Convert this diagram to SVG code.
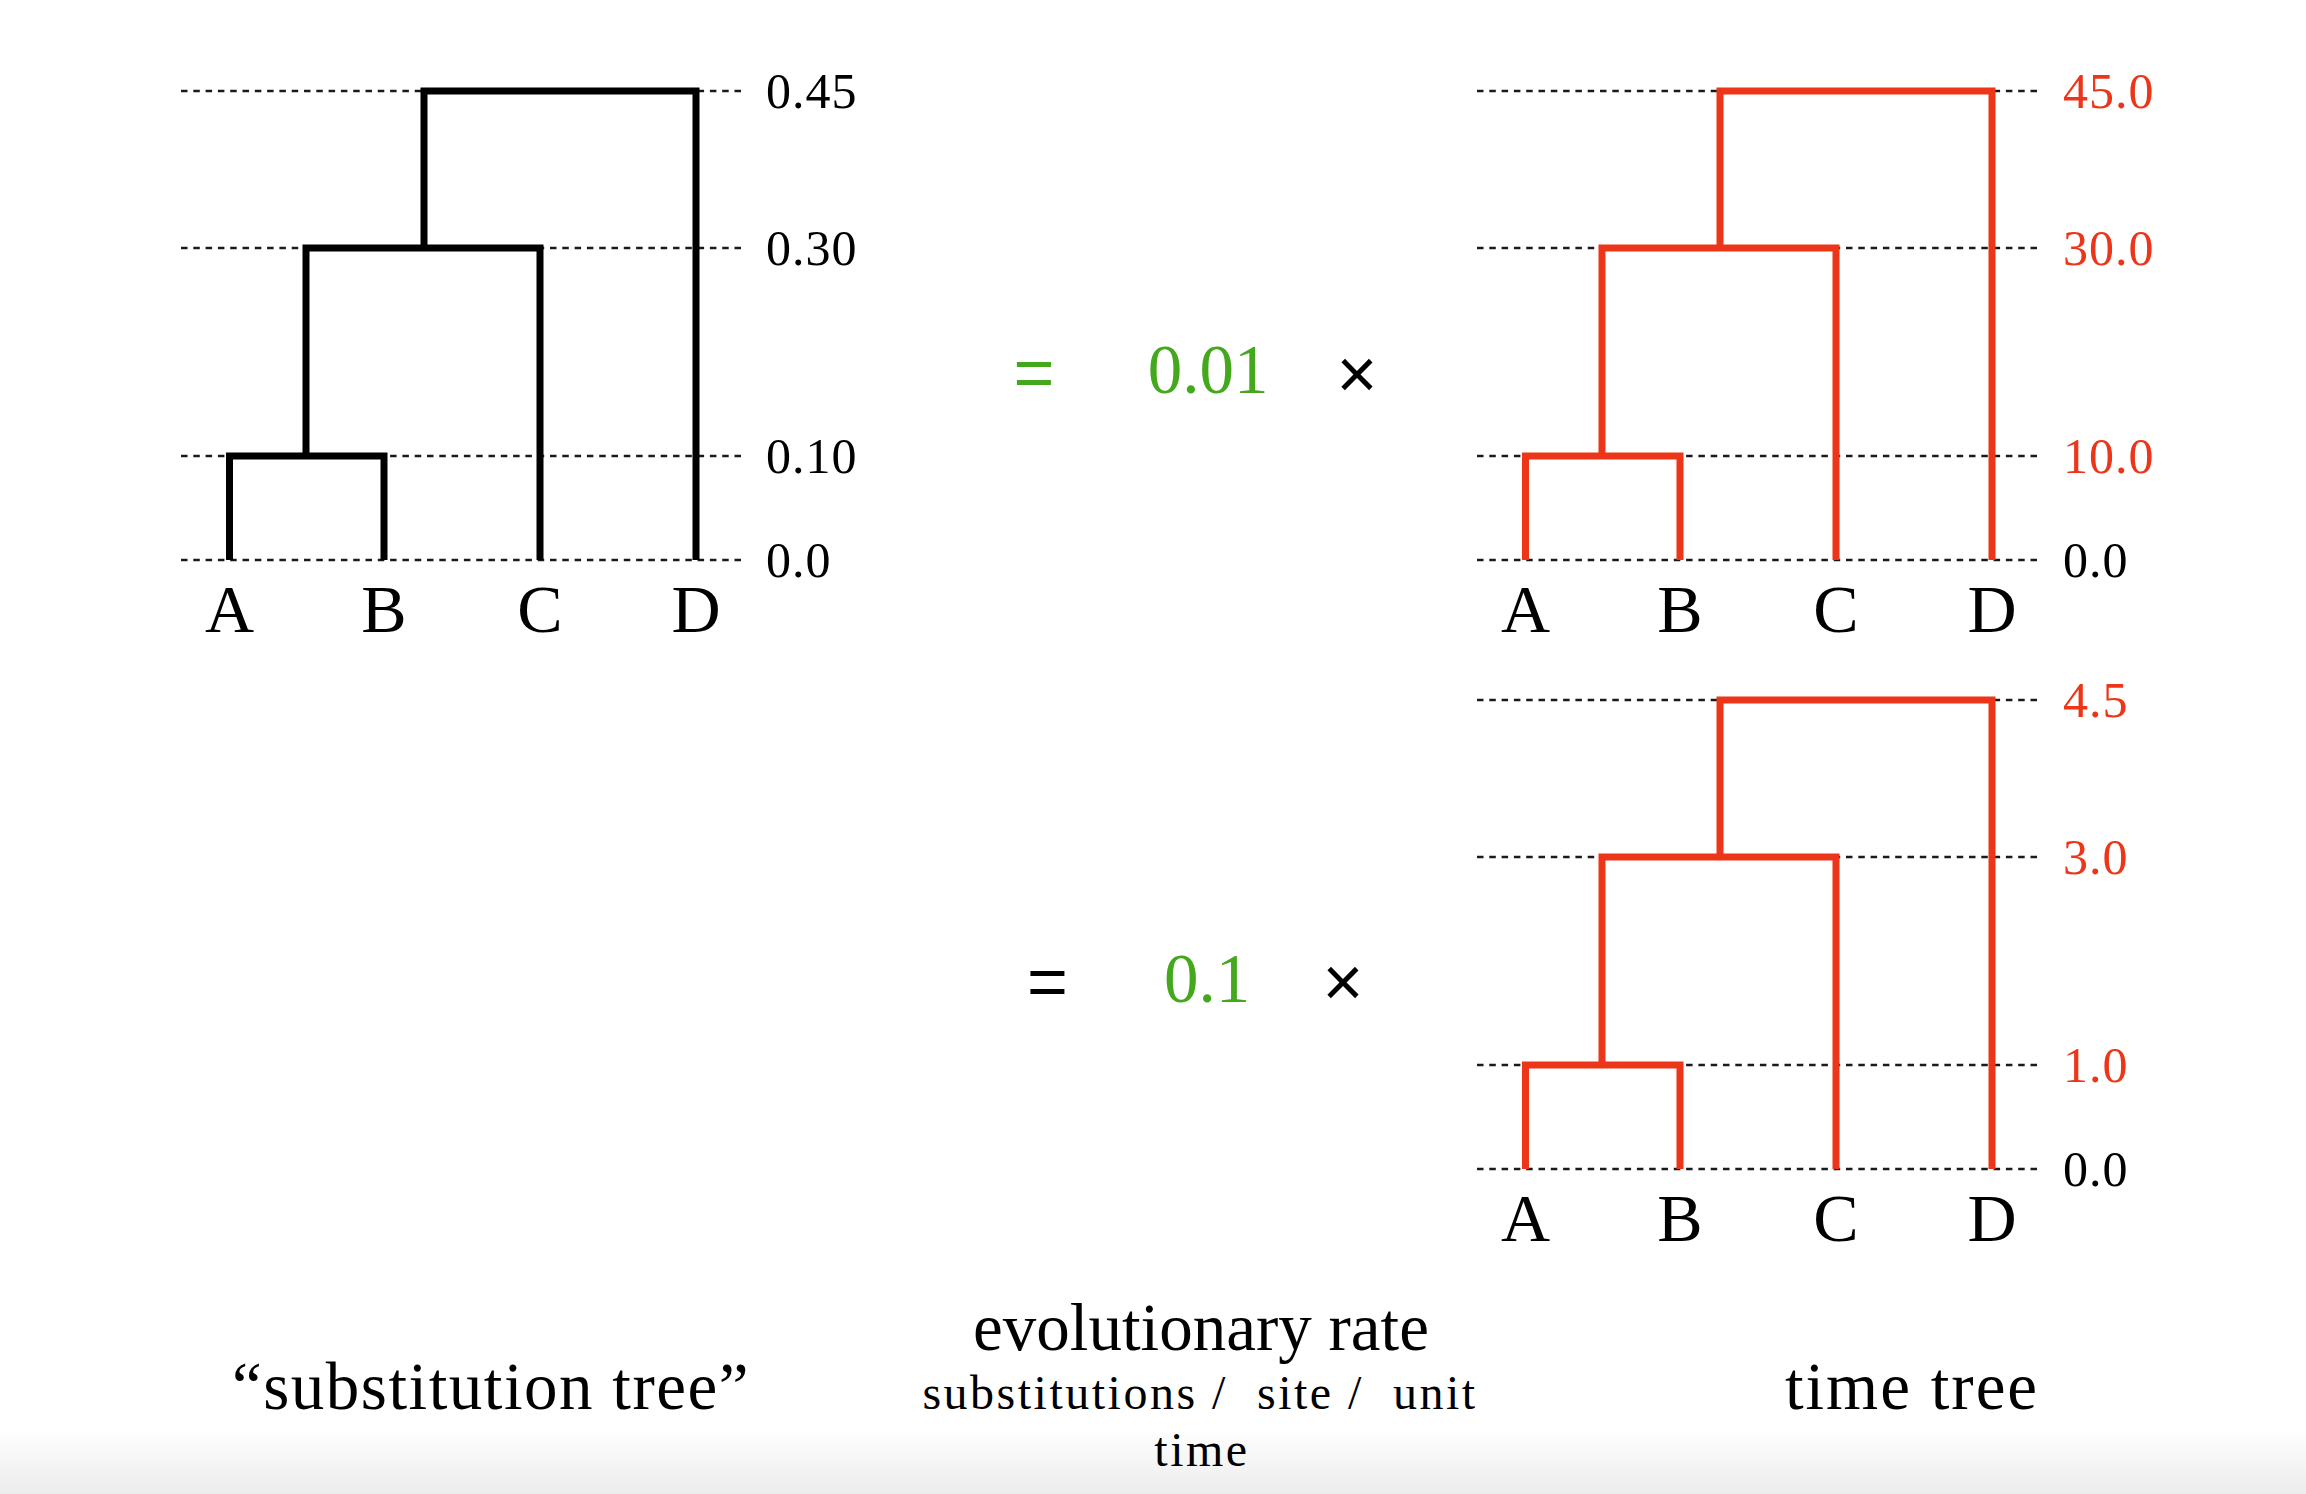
<svg xmlns="http://www.w3.org/2000/svg" width="2306" height="1494" viewBox="0 0 2306 1494">
  <defs>
    <linearGradient id="fade" x1="0" y1="0" x2="0" y2="1">
      <stop offset="0" stop-color="#ffffff"/>
      <stop offset="1" stop-color="#ececec"/>
    </linearGradient>
    <style>
      .grid { stroke: #1a1a1a; stroke-width: 2.6; stroke-dasharray: 6.5 5.8; fill: none; }
      .br { fill: none; stroke-width: 7; stroke-linejoin: miter; stroke-linecap: butt; }
      .blk { stroke: #000000; }
      .red { stroke: #ec3519; }
      .serif { font-family: "Liberation Serif", "Times New Roman", serif; }
      .sans { font-family: "Liberation Sans", Arial, sans-serif; }
      .ax { font-size: 50px; letter-spacing: 1px; }
      .tip { font-size: 68px; text-anchor: middle; fill: #000; }
      .rt { fill: #ec3519; }
      .gr { fill: #44a81c; }
      .op { font-size: 70px; text-anchor: middle; }
      .big { font-size: 67px; text-anchor: middle; fill: #000; }
      .small { font-size: 48px; text-anchor: middle; fill: #000; letter-spacing: 2.5px; white-space: pre; }
    </style>
  </defs>
  <rect x="0" y="0" width="2306" height="1494" fill="#ffffff"/>
  <rect x="0" y="1428" width="2306" height="66" fill="url(#fade)"/>

  <!-- Substitution tree (left, black) -->
  <g id="substitution-tree">
    <g id="subst-grid">
      <line class="grid" x1="181" y1="91" x2="743" y2="91"/>
      <line class="grid" x1="181" y1="248" x2="743" y2="248"/>
      <line class="grid" x1="181" y1="456" x2="743" y2="456"/>
      <line class="grid" x1="181" y1="560" x2="743" y2="560"/>
    </g>
    <g id="subst-branches" class="br blk">
      <path d="M229.5 560 V456 H384 V560"/>
      <path d="M306 456 V248 H540 V560"/>
      <path d="M424 248 V91 H696 V560"/>
    </g>
    <g id="subst-axis" class="serif ax">
      <text x="766" y="107.5">0.45</text>
      <text x="766" y="264.5">0.30</text>
      <text x="766" y="472.5">0.10</text>
      <text x="766" y="576.5">0.0</text>
    </g>
    <g id="subst-tips" class="serif tip">
      <text x="229.5" y="632">A</text>
      <text x="384" y="632">B</text>
      <text x="540" y="632">C</text>
      <text x="696" y="632">D</text>
    </g>
  </g>

  <!-- Time tree 1 (top right, red) -->
  <g id="time-tree-1">
    <g id="time1-grid">
      <line class="grid" x1="1477" y1="91" x2="2039" y2="91"/>
      <line class="grid" x1="1477" y1="248" x2="2039" y2="248"/>
      <line class="grid" x1="1477" y1="456" x2="2039" y2="456"/>
      <line class="grid" x1="1477" y1="560" x2="2039" y2="560"/>
    </g>
    <g id="time1-branches" class="br red">
      <path d="M1525.5 560 V456 H1680 V560"/>
      <path d="M1602 456 V248 H1836 V560"/>
      <path d="M1720 248 V91 H1992 V560"/>
    </g>
    <g id="time1-axis" class="serif ax">
      <text class="rt" x="2063" y="107.5">45.0</text>
      <text class="rt" x="2063" y="264.5">30.0</text>
      <text class="rt" x="2063" y="472.5">10.0</text>
      <text x="2063" y="576.5">0.0</text>
    </g>
    <g id="time1-tips" class="serif tip">
      <text x="1525.5" y="632">A</text>
      <text x="1680" y="632">B</text>
      <text x="1836" y="632">C</text>
      <text x="1992" y="632">D</text>
    </g>
  </g>

  <!-- Time tree 2 (bottom right, red) -->
  <g id="time-tree-2">
    <g id="time2-grid">
      <line class="grid" x1="1477" y1="700" x2="2039" y2="700"/>
      <line class="grid" x1="1477" y1="857" x2="2039" y2="857"/>
      <line class="grid" x1="1477" y1="1065" x2="2039" y2="1065"/>
      <line class="grid" x1="1477" y1="1169" x2="2039" y2="1169"/>
    </g>
    <g id="time2-branches" class="br red">
      <path d="M1525.5 1169 V1065 H1680 V1169"/>
      <path d="M1602 1065 V857 H1836 V1169"/>
      <path d="M1720 857 V700 H1992 V1169"/>
    </g>
    <g id="time2-axis" class="serif ax">
      <text class="rt" x="2063" y="716.5">4.5</text>
      <text class="rt" x="2063" y="873.5">3.0</text>
      <text class="rt" x="2063" y="1081.5">1.0</text>
      <text x="2063" y="1185.5">0.0</text>
    </g>
    <g id="time2-tips" class="serif tip">
      <text x="1525.5" y="1241">A</text>
      <text x="1680" y="1241">B</text>
      <text x="1836" y="1241">C</text>
      <text x="1992" y="1241">D</text>
    </g>
  </g>

  <!-- Equation 1 -->
  <g id="equation-1">
    <text class="sans op gr" x="1034" y="397">=</text>
    <text class="serif gr" x="1208" y="393" font-size="69" text-anchor="middle">0.01</text>
    <text class="sans op" x="1357" y="398" fill="#000">×</text>
  </g>

  <!-- Equation 2 -->
  <g id="equation-2">
    <text class="sans op" x="1047.5" y="1006" fill="#000">=</text>
    <text class="serif gr" x="1207" y="1001.5" font-size="69" text-anchor="middle">0.1</text>
    <text class="sans op" x="1343" y="1006" fill="#000">×</text>
  </g>

  <!-- Captions -->
  <g id="captions" class="serif">
    <text class="big" x="491" y="1409" letter-spacing="1.5">“substitution tree”</text>
    <text class="big" x="1201" y="1350" font-size="68">evolutionary rate</text>
    <text class="small" x="1200" y="1409">substitutions /  site /  unit</text>
    <text class="small" x="1202" y="1466" letter-spacing="3">time</text>
    <text class="big" x="1912" y="1409" letter-spacing="2">time tree</text>
  </g>
</svg>
